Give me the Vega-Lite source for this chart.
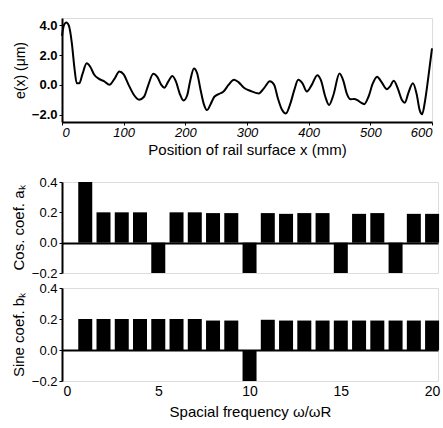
{
  "$schema": "https://vega.github.io/schema/vega-lite/v6.json",
  "background": "white",
  "padding": {"left": 10, "top": 17, "right": 0, "bottom": 0},
  "spacing": 0,
  "datasets": {
    "profile": [
      {"x": 0, "e": 3.3}, {"x": 3, "e": 4.0}, {"x": 7, "e": 4.2}, {"x": 11, "e": 4.0}, {"x": 16, "e": 2.8},
      {"x": 20, "e": 1.2}, {"x": 24, "e": 0.1}, {"x": 28, "e": 0.1}, {"x": 33, "e": 0.7}, {"x": 40, "e": 1.45},
      {"x": 46, "e": 1.2}, {"x": 52, "e": 0.7}, {"x": 60, "e": 0.4}, {"x": 68, "e": 0.25}, {"x": 77, "e": 0.0},
      {"x": 85, "e": 0.4}, {"x": 93, "e": 0.9}, {"x": 100, "e": 0.7}, {"x": 108, "e": 0.0}, {"x": 117, "e": -0.7},
      {"x": 125, "e": -1.0}, {"x": 133, "e": -0.8}, {"x": 140, "e": 0.0}, {"x": 148, "e": 0.75}, {"x": 155, "e": 0.5},
      {"x": 161, "e": 0.0}, {"x": 166, "e": -0.2}, {"x": 172, "e": 0.2}, {"x": 179, "e": 0.6}, {"x": 185, "e": 0.2},
      {"x": 191, "e": -0.6}, {"x": 197, "e": -1.05}, {"x": 203, "e": -0.7}, {"x": 208, "e": 0.3}, {"x": 214, "e": 1.1},
      {"x": 219, "e": 0.8}, {"x": 225, "e": -0.4}, {"x": 230, "e": -1.3}, {"x": 235, "e": -1.7}, {"x": 241, "e": -1.3},
      {"x": 247, "e": -0.8}, {"x": 255, "e": -0.6}, {"x": 262, "e": -0.45}, {"x": 270, "e": 0.0}, {"x": 279, "e": 0.35},
      {"x": 287, "e": 0.15}, {"x": 295, "e": -0.2}, {"x": 305, "e": -0.4}, {"x": 319, "e": -0.58}, {"x": 328, "e": -0.2},
      {"x": 337, "e": 0.25}, {"x": 344, "e": 0.0}, {"x": 350, "e": -0.9}, {"x": 357, "e": -1.7}, {"x": 363, "e": -1.93},
      {"x": 370, "e": -1.3}, {"x": 377, "e": -0.3}, {"x": 383, "e": 0.35}, {"x": 390, "e": 0.1}, {"x": 397, "e": -0.45},
      {"x": 405, "e": 0.0}, {"x": 414, "e": 0.65}, {"x": 420, "e": 0.3}, {"x": 427, "e": -0.8}, {"x": 433, "e": -1.35},
      {"x": 440, "e": -0.7}, {"x": 450, "e": 0.76}, {"x": 456, "e": 0.3}, {"x": 462, "e": -0.6}, {"x": 468, "e": -0.97},
      {"x": 474, "e": -0.95}, {"x": 479, "e": -1.03}, {"x": 485, "e": -1.2}, {"x": 490, "e": -1.3}, {"x": 497, "e": -0.8},
      {"x": 504, "e": 0.1}, {"x": 511, "e": 0.55}, {"x": 518, "e": 0.2}, {"x": 527, "e": -0.3}, {"x": 532, "e": -0.1},
      {"x": 538, "e": 0.27}, {"x": 545, "e": -0.3}, {"x": 551, "e": -1.0}, {"x": 556, "e": -1.2}, {"x": 562, "e": -0.5},
      {"x": 569, "e": 0.1}, {"x": 575, "e": -0.6}, {"x": 580, "e": -1.7}, {"x": 584, "e": -1.97}, {"x": 589, "e": -1.0},
      {"x": 594, "e": 0.5}, {"x": 600, "e": 2.45}
    ],
    "coef": [
      {"k": 1, "cos": 0.4, "sin": 0.2}, {"k": 2, "cos": 0.2, "sin": 0.2}, {"k": 3, "cos": 0.2, "sin": 0.2},
      {"k": 4, "cos": 0.2, "sin": 0.2}, {"k": 5, "cos": -0.2, "sin": 0.2}, {"k": 6, "cos": 0.2, "sin": 0.2},
      {"k": 7, "cos": 0.2, "sin": 0.2}, {"k": 8, "cos": 0.195, "sin": 0.19}, {"k": 9, "cos": 0.195, "sin": 0.19},
      {"k": 10, "cos": -0.2, "sin": -0.2}, {"k": 11, "cos": 0.195, "sin": 0.195}, {"k": 12, "cos": 0.19, "sin": 0.19},
      {"k": 13, "cos": 0.195, "sin": 0.19}, {"k": 14, "cos": 0.195, "sin": 0.19}, {"k": 15, "cos": -0.2, "sin": 0.19},
      {"k": 16, "cos": 0.19, "sin": 0.19}, {"k": 17, "cos": 0.195, "sin": 0.19}, {"k": 18, "cos": -0.2, "sin": 0.19},
      {"k": 19, "cos": 0.19, "sin": 0.19}, {"k": 20, "cos": 0.19, "sin": 0.19}
    ]
  },
  "vconcat": [
    {
      "width": 370,
      "height": 104,
      "data": {"name": "profile"},
      "mark": {"type": "line", "color": "#000000", "strokeWidth": 2, "interpolate": "monotone"},
      "encoding": {
        "x": {
          "field": "x", "type": "quantitative",
          "scale": {"domain": [0, 600], "nice": false},
          "axis": {
            "values": [0, 100, 200, 300, 400, 500, 600], "title": ["Position of rail surface  x (mm)", " "],
            "grid": false,
            "domainColor": "#000000", "domainWidth": 2, "tickColor": "#000000", "tickWidth": 1, "tickSize": 3,
            "labelColor": "#000000", "labelFontStyle": "italic", "labelFontSize": 13, "labelPadding": 1, "labelOverlap": false,
            "titleColor": "#000000", "titleFontSize": 15, "titleFontWeight": "normal", "titlePadding": 3
          }
        },
        "y": {
          "field": "e", "type": "quantitative",
          "scale": {"domain": [-2.5, 4.5], "nice": false},
          "axis": {
            "values": [-2, 0, 2, 4], "format": ".1f", "title": "e(x)  (μm)", "grid": false,
            "domainColor": "#000000", "domainWidth": 2, "tickColor": "#000000", "tickWidth": 1, "tickSize": 3,
            "labelColor": "#000000", "labelFontWeight": "bold", "labelFontSize": 13, "labelOverlap": false,
            "titleColor": "#000000", "titleFontSize": 14, "titleFontWeight": "normal", "titlePadding": 4
          }
        }
      }
    },
    {
      "width": 376,
      "height": 91,
      "data": {"name": "coef"},
      "mark": {"type": "bar", "color": "#000000", "size": 14},
      "encoding": {
        "x": {"field": "k", "type": "quantitative", "scale": {"domain": [0, 20.05], "nice": false}, "axis": null},
        "y": {
          "field": "cos", "type": "quantitative",
          "scale": {"domain": [-0.2, 0.4], "nice": false},
          "axis": {
            "values": [-0.2, 0, 0.2, 0.4], "format": ".1f", "title": "Cos. coef. aₖ",
            "grid": true, "gridColor": "#000000", "gridWidth": 2,
            "gridOpacity": {"condition": {"test": "datum.value === 0", "value": 1}, "value": 0},
            "domainColor": "#000000", "domainWidth": 2, "tickColor": "#000000", "tickWidth": 1, "tickSize": 3,
            "labelColor": "#000000", "labelFontSize": 13, "labelOverlap": false,
            "titleColor": "#000000", "titleFontSize": 15, "titleFontWeight": "normal", "titlePadding": 5
          }
        }
      }
    },
    {
      "width": 376,
      "height": 93,
      "data": {"name": "coef"},
      "mark": {"type": "bar", "color": "#000000", "size": 14},
      "encoding": {
        "x": {
          "field": "k", "type": "quantitative", "scale": {"domain": [0, 20.05], "nice": false},
          "axis": {
            "values": [0, 5, 10, 15, 20], "title": "Spacial frequency  ω/ωR", "domain": false, "ticks": false, "grid": false,
            "labelColor": "#000000", "labelFontSize": 14, "labelPadding": 3, "labelOverlap": false,
            "titleColor": "#000000", "titleFontSize": 15, "titleFontWeight": "normal", "titlePadding": 6
          }
        },
        "y": {
          "field": "sin", "type": "quantitative",
          "scale": {"domain": [-0.2, 0.4], "nice": false},
          "axis": {
            "values": [-0.2, 0, 0.2, 0.4], "format": ".1f", "title": "Sine coef. bₖ",
            "grid": true, "gridColor": "#000000", "gridWidth": 2,
            "gridOpacity": {"condition": {"test": "datum.value === 0", "value": 1}, "value": 0},
            "domainColor": "#000000", "domainWidth": 2, "tickColor": "#000000", "tickWidth": 1, "tickSize": 3,
            "labelColor": "#000000", "labelFontSize": 13, "labelOverlap": false,
            "titleColor": "#000000", "titleFontSize": 15, "titleFontWeight": "normal", "titlePadding": 5
          }
        }
      }
    }
  ]
}
